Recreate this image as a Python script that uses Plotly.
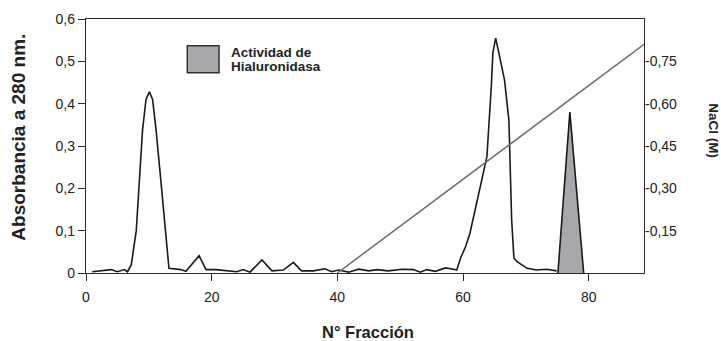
import plotly.graph_objects as go

# ---- data ----
fraction = [1.0, 2.6, 4.0, 5.0, 6.1, 6.6, 7.2, 8.0, 8.5, 9.0, 9.55, 10.08, 10.6,
            11.15, 11.9, 12.7, 13.2, 15.1, 15.9, 18.0, 19.1, 20.7, 22.9, 24.0,
            25.0, 26.1, 28.0, 29.6, 31.4, 33.0, 34.3, 36.2, 38.0, 39.1, 40.2,
            41.8, 43.4, 45.0, 46.3, 48.1, 50.3, 52.1, 53.2, 54.2, 55.6, 57.2,
            58.5, 59.0, 59.6, 60.4, 61.1, 61.7, 62.2, 63.3, 63.8, 64.5, 64.75,
            65.2, 66.6, 67.3, 67.74, 68.1, 68.6, 70.2, 71.7, 73.3, 74.9]
absorbance = [0.003, 0.005, 0.008, 0.003, 0.008, 0.003, 0.019, 0.10, 0.22, 0.338,
              0.41, 0.428, 0.41, 0.338, 0.22, 0.10, 0.011, 0.008, 0.004, 0.041,
              0.008, 0.008, 0.005, 0.003, 0.008, 0.002, 0.031, 0.005, 0.007,
              0.025, 0.005, 0.005, 0.010, 0.003, 0.007, 0.002, 0.009, 0.005,
              0.008, 0.005, 0.009, 0.008, 0.002, 0.008, 0.004, 0.012, 0.009,
              0.007, 0.035, 0.062, 0.094, 0.133, 0.172, 0.243, 0.275, 0.44, 0.52,
              0.555, 0.456, 0.361, 0.125, 0.035, 0.027, 0.011, 0.007, 0.009, 0.005]

activity_fraction = [75.1, 77.0, 79.2]
activity_absorbance = [0.0, 0.38, 0.0]

nacl_fraction = [40.0, 88.8]
nacl_molar = [0.0, -0.81]

x_ticks = [0, 20, 40, 60, 80]
y_ticks = [0, 0.1, 0.2, 0.3, 0.4, 0.5, 0.6]
y_ticklabels = ["0", "0,1", "0,2", "0,3", "0,4", "0,5", "0,6"]
y2_ticks = [-0.15, -0.30, -0.45, -0.60, -0.75]
y2_ticklabels = ["-0,15", "-0,30", "-0,45", "-0,60", "-0,75"]

FONT = "Liberation Sans, Arial, sans-serif"
AX = "#2a2a2a"
FILL = "#a7a8ab"

fig = go.Figure()
fig.add_trace(go.Scatter(x=fraction, y=absorbance, mode="lines",
                         line=dict(color="#1a1a1a", width=1.6), showlegend=False))
fig.add_trace(go.Scatter(x=activity_fraction, y=activity_absorbance, mode="lines",
                         fill="tozeroy", fillcolor=FILL,
                         line=dict(color="#1a1a1a", width=1.6), showlegend=False))
fig.add_trace(go.Scatter(x=nacl_fraction, y=nacl_molar, mode="lines", yaxis="y2",
                         line=dict(color="#6e6e6e", width=1.5), showlegend=False))

fig.update_layout(
    width=721, height=341,
    margin=dict(l=86, r=77, t=19, b=68),
    paper_bgcolor="white", plot_bgcolor="white",
    font=dict(family=FONT, size=14, color="#222"),
    xaxis=dict(range=[0, 88.8], tickvals=x_ticks, ticks="outside", ticklen=7,
               tickcolor=AX, showline=True, linecolor=AX, linewidth=1.3,
               mirror=True, showgrid=False, zeroline=False,
               ticklabelstandoff=4, tickfont=dict(size=14)),
    yaxis=dict(range=[0, 0.6], tickvals=y_ticks, ticktext=y_ticklabels,
               ticks="outside", ticklen=7, tickcolor=AX, showline=True,
               linecolor=AX, linewidth=1.3, mirror=True, showgrid=False,
               zeroline=False, tickfont=dict(size=14)),
    yaxis2=dict(overlaying="y", side="right", range=[0, -0.9],
                tickvals=y2_ticks, ticktext=y2_ticklabels, ticks="",
                showline=False, showgrid=False, zeroline=False,
                tickfont=dict(size=14)),
)

fig.add_shape(type="rect", xref="paper", yref="paper",
              x0=0.1815, x1=0.2384, y0=0.7886, y1=0.8949,
              fillcolor=FILL, line=dict(color="#333", width=1.5))

fig.add_annotation(text="<b>Actividad de</b>", xref="paper", yref="paper",
                   x=0.256, y=0.868, xanchor="left", yanchor="middle", showarrow=False,
                   font=dict(size=13.5, color="#222"))
fig.add_annotation(text="<b>Hialuronidasa</b>", xref="paper", yref="paper",
                   x=0.256, y=0.813, xanchor="left", yanchor="middle", showarrow=False,
                   font=dict(size=13.5, color="#222"))
fig.add_annotation(text="<b>Absorbancia a 280 nm.</b>", xref="paper", yref="paper",
                   x=-0.12, y=0.533, xanchor="center", yanchor="middle", textangle=-90,
                   showarrow=False, font=dict(size=19, color="#222"))
fig.add_annotation(text="<b>N° Fracción</b>", xref="paper", yref="paper",
                   x=0.505, y=-0.232, xanchor="center", yanchor="middle",
                   showarrow=False, font=dict(size=16.5, color="#222"))
fig.add_annotation(text="<b>NaCl (M)</b>", xref="paper", yref="paper",
                   x=1.125, y=0.559, xanchor="center", yanchor="middle", textangle=90,
                   showarrow=False, font=dict(size=13.5, color="#222"))

# remove the browser's default 8px page margin so the figure fills the window
fig.write_html("out.html", config={"displayModeBar": False},
               post_script="document.body.style.margin='0';"
                           "document.body.style.overflow='hidden';")
